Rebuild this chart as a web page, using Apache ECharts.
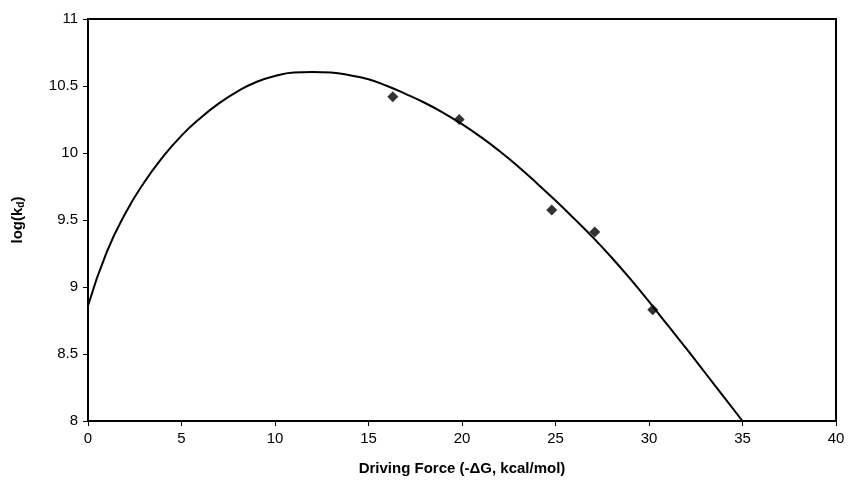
<!DOCTYPE html>
<html>
<head>
<meta charset="utf-8">
<script src="https://cdn.jsdelivr.net/npm/echarts@6/dist/echarts.min.js"></script>
<style>
  html, body { margin: 0; padding: 0; background: #fff; }
  #chart { width: 849px; height: 483px; }
</style>
</head>
<body>
<div id="chart"></div>
<script>
// fitted curve
const curveX = [0, 1, 2, 3, 4, 5, 6, 7, 8, 9, 10, 11, 12, 13, 14, 15, 16, 17,
  18, 19, 20, 21, 22, 23, 24, 25, 26, 27, 28, 29, 30, 31, 32, 33, 34, 35];
const curveY = [8.86, 9.26, 9.55, 9.78, 9.97, 10.13, 10.26, 10.37, 10.46, 10.53,
  10.575, 10.6, 10.605, 10.6, 10.58, 10.55, 10.5, 10.44, 10.375, 10.3, 10.215,
  10.12, 10.015, 9.9, 9.775, 9.645, 9.51, 9.37, 9.22, 9.06, 8.89, 8.715, 8.54,
  8.36, 8.18, 8.0];

// measured points
const pointX = [16.3, 19.85, 24.8, 27.1, 30.2];
const pointY = [10.42, 10.25, 9.575, 9.41, 8.83];

const chart = echarts.init(document.getElementById('chart'), null, { renderer: 'canvas' });

const font = 'Liberation Sans, Arial, sans-serif';
const axisLine = { show: true, lineStyle: { color: '#000', width: 2 } };

chart.setOption({
  animation: false,
  backgroundColor: '#fff',
  grid: {
    left: 88, right: 13, top: 19, bottom: 62,
    show: true, borderColor: '#000', borderWidth: 2,
  },
  xAxis: {
    type: 'value',
    min: 0, max: 40, interval: 5,
    name: 'Driving Force (-ΔG, kcal/mol)',
    nameLocation: 'middle',
    nameGap: 40,
    nameTextStyle: { fontFamily: font, fontSize: 15, fontWeight: 'bold', color: '#000' },
    axisLine,
    axisTick: { show: true, length: 5, lineStyle: { color: '#000', width: 1 } },
    axisLabel: { fontFamily: font, fontSize: 15, color: '#000', margin: 10 },
    splitLine: { show: false },
  },
  yAxis: {
    type: 'value',
    min: 8, max: 11, interval: 0.5,
    name: '{n|log(k}{s|d}{n|)}',
    nameLocation: 'middle',
    nameGap: 62,
    nameRotate: 90,
    nameTextStyle: {
      rich: {
        n: { fontFamily: font, fontSize: 15, fontWeight: 'bold', color: '#000' },
        s: { fontFamily: font, fontSize: 10, fontWeight: 'bold', color: '#000', verticalAlign: 'bottom', padding: [6, 0, 0, 0] },
      },
    },
    axisLine,
    axisTick: { show: true, length: 5, lineStyle: { color: '#000', width: 1 } },
    axisLabel: { fontFamily: font, fontSize: 15, color: '#000', margin: 10 },
    splitLine: { show: false },
  },
  series: [
    {
      type: 'line',
      data: curveX.map((x, i) => [x, curveY[i]]),
      smooth: true,
      showSymbol: false,
      clip: true,
      lineStyle: { color: '#000', width: 2 },
    },
    {
      type: 'scatter',
      data: pointX.map((x, i) => [x, pointY[i]]),
      symbol: 'diamond',
      symbolSize: [11, 11],
      itemStyle: { color: '#000' },
    },
  ],
});
</script>
</body>
</html>
